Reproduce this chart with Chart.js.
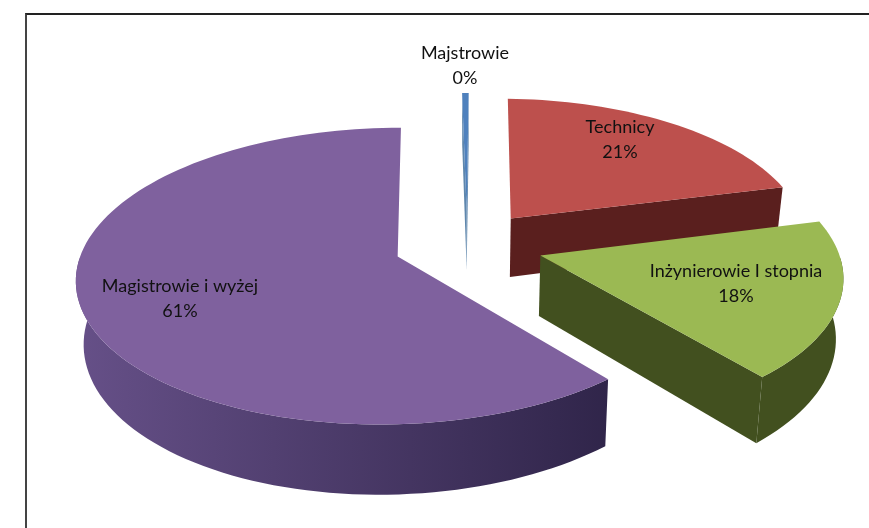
<!DOCTYPE html>
<html>
<head>
<meta charset="utf-8">
<script src="https://cdn.jsdelivr.net/npm/chart.js@4"></script>
<style>
  html, body { margin: 0; padding: 0; background: #fff; }
  #chart { position: absolute; left: 0; top: 0; }
  #frame { position: absolute; left: 25px; top: 13px; right: 0; bottom: 0; border-left: 2px solid #444; border-top: 2px solid #222; }
</style>
</head>
<body>
<canvas id="chart" width="869" height="528"></canvas>
<div id="frame"></div>
<script>
const categories = ['Majstrowie', 'Technicy', 'Inżynierowie I stopnia', 'Magistrowie i wyżej'];
const shares = [0.4, 21, 18, 61];

const faceColors = ['#4f81bd', '#bd504d', '#9bb953', '#7f619e'];
const wallColors = [['#5f87ad', '#5f87ad'], ['#5a1f1e', '#5a1f1e'], ['#42501f', '#42501f'], ['#665088', '#30254a']];
const sliceOffsets = [56, 56, 59, 56];
const labelSpots = [[465, 53], [620, 127], [736, 271], [180, 286]];

// homography of the pie plane onto the screen
const view = { cx: 467, cy: 244.5, a: 305, b: 142, k: 0.13, m: 0.02, depth: 60, taper: 0.98 };

function project(u, v) {
    const w = 1 - view.k * v + view.m * u;
    return { x: view.cx + view.a * u / w, y: view.cy + view.b * v / w, d: view.depth / w };
}

function sliceOutline(arc) {
    const e = arc.options.offset / arc.outerRadius;
    const mid = (arc.startAngle + arc.endAngle) / 2;
    const ou = e * Math.cos(mid), ov = e * Math.sin(mid);
    const rim = [];
    const steps = Math.max(2, Math.ceil((arc.endAngle - arc.startAngle) * 30));
    for (let i = 0; i <= steps; i++) {
        const a = arc.startAngle + (arc.endAngle - arc.startAngle) * i / steps;
        const p = project(ou + Math.cos(a), ov + Math.sin(a));
        p.front = Math.sin(a) > 0;
        rim.push(p);
    }
    return { apex: project(ou, ov), rim };
}

function fillPoly(ctx, pts) {
    ctx.beginPath();
    pts.forEach((p, j) => j ? ctx.lineTo(p.x, p.y) : ctx.moveTo(p.x, p.y));
    ctx.closePath();
    ctx.fill();
}

// bottom edge of the wall, pulled in a little towards the vanishing line
const lower = p => ({ x: view.cx + (p.x - view.cx) * view.taper, y: p.y + p.d });

const pie3d = {
    id: 'pie3d',
    beforeDatasetsDraw(chart) {
        const ctx = chart.ctx;
        const arcs = chart.getDatasetMeta(0).data;
        arcs.forEach((arc, i) => {
            const { apex, rim } = sliceOutline(arc);
            const first = rim[0], last = rim[rim.length - 1];
            const sliver = arc.endAngle - arc.startAngle < 0.1;
            const xs = rim.map(p => p.x);
            const grad = ctx.createLinearGradient(Math.min(...xs), 0, Math.max(...xs), 0);
            grad.addColorStop(0, wallColors[i][0]);
            grad.addColorStop(1, wallColors[i][1]);
            ctx.fillStyle = grad;
            // only the walls that face the viewer, the thin slice keeps both
            if (sliver || Math.cos(arc.startAngle) < 0) fillPoly(ctx, [apex, first, lower(first), lower(apex)]);
            if (sliver || Math.cos(arc.endAngle) > 0) fillPoly(ctx, [apex, last, lower(last), lower(apex)]);
            // front of the rim as one strip so no seams show
            const front = rim.filter(p => p.front);
            if (front.length > 1) fillPoly(ctx, front.concat(front.map(lower).reverse()));
            ctx.fillStyle = faceColors[i];
            fillPoly(ctx, [apex].concat(rim));
        });
        return false;
    },
    afterDraw(chart) {
        const ctx = chart.ctx;
        const total = shares.reduce((a, b) => a + b, 0);
        ctx.font = '18px Lato, "Open Sans", sans-serif';
        ctx.fillStyle = '#111';
        ctx.textAlign = 'center';
        ctx.textBaseline = 'middle';
        categories.forEach((name, i) => {
            const [x, y] = labelSpots[i];
            ctx.fillText(name, x, y);
            ctx.fillText(Math.round(shares[i] / total * 100) + '%', x, y + 25);
        });
    }
};

new Chart(document.getElementById('chart'), {
    type: 'pie',
    data: {
        labels: categories,
        datasets: [{
            data: shares,
            backgroundColor: faceColors,
            borderWidth: 0,
            offset: sliceOffsets
        }]
    },
    options: {
        responsive: false,
        animation: false,
        rotation: -1,
        plugins: { legend: { display: false }, tooltip: { enabled: false } }
    },
    plugins: [pie3d]
});
</script>
</body>
</html>
